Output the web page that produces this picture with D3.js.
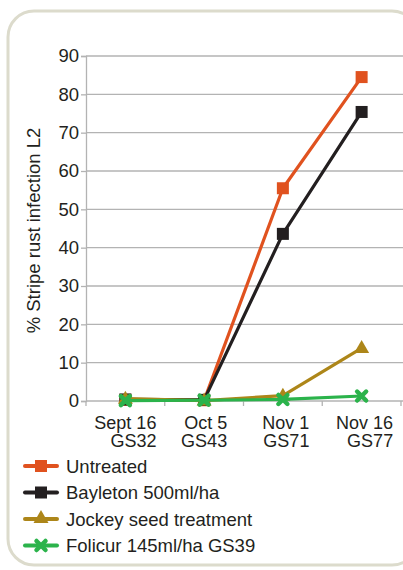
<!DOCTYPE html>
<html>
<head>
<meta charset="utf-8">
<script src="https://cdn.jsdelivr.net/npm/d3@7"></script>
<style>
  html, body { margin: 0; padding: 0; background: #fff; }
  svg { display: block; font-family: "Liberation Sans", Arial, Helvetica, sans-serif; }
</style>
</head>
<body>
<svg id="chart" width="403" height="570"></svg>
<script>
// ---- data ----
const dates = ["Sept 16", "Oct 5", "Nov 1", "Nov 16"];
const stages = ["GS32", "GS43", "GS71", "GS77"];
const yTicks = [0, 10, 20, 30, 40, 50, 60, 70, 80, 90];
const seriesNames = ["Untreated", "Bayleton 500ml/ha", "Jockey seed treatment", "Folicur 145ml/ha GS39"];
const untreated = [0.3, 0.2, 55.5, 84.5];
const bayleton = [0.4, 0.3, 43.6, 75.4];
const jockey = [0.6, 0.1, 1.4, 13.8];
const folicur = [0.1, 0.2, 0.4, 1.3];
const seriesColors = ["#e0521f", "#231f20", "#ad8619", "#2bb34b"];
const seriesMarkers = ["square", "square", "triangle", "cross"];

const series = seriesNames.map((n, i) => ({
  name: n,
  values: [untreated, bayleton, jockey, folicur][i],
  color: seriesColors[i],
  marker: seriesMarkers[i]
}));

const svg = d3.select("#chart");

// panel border
svg.append("rect")
  .attr("x", 8).attr("y", 11)
  .attr("width", 410).attr("height", 554)
  .attr("rx", 26).attr("ry", 26)
  .attr("fill", "#fff")
  .attr("stroke", "#dcdbcc")
  .attr("stroke-width", 3);

const pLeft = 86, pRight = 401, pTop = 56, pBottom = 401;
const x = d3.scaleBand().domain(dates).range([pLeft, pRight]);
const y = d3.scaleLinear().domain([0, 90]).range([pBottom, pTop]);

const gridColor = "#b3b3b3";

// gridlines
svg.append("g").selectAll("line").data(yTicks).join("line")
  .attr("x1", pLeft).attr("x2", 403)
  .attr("y1", d => y(d)).attr("y2", d => y(d))
  .attr("stroke", gridColor).attr("stroke-width", 1.3);

// y axis
const yAxis = svg.append("g")
  .attr("transform", `translate(${pLeft},0)`)
  .call(d3.axisLeft(y).tickValues(yTicks).tickSize(5).tickPadding(2));
yAxis.select(".domain").attr("stroke", gridColor).attr("stroke-width", 1.3);
yAxis.selectAll(".tick line").attr("stroke", gridColor).attr("stroke-width", 1.3);
yAxis.selectAll(".tick text")
  .attr("font-size", 18.5).attr("fill", "#231f20")
  .attr("font-family", "Liberation Sans, Arial, sans-serif");

// x axis tick marks at band boundaries
const bounds = dates.map(d => x(d)).concat([x(dates[dates.length - 1]) + x.bandwidth()]);
svg.append("g").selectAll("line").data(bounds).join("line")
  .attr("x1", d => d).attr("x2", d => d)
  .attr("y1", pBottom).attr("y2", pBottom + 5)
  .attr("stroke", gridColor).attr("stroke-width", 1.3);

// x labels (two lines, right aligned)
const xl = svg.append("g").attr("font-size", 18).attr("fill", "#231f20");
dates.forEach((d, i) => {
  const cx = x(d) + x.bandwidth() / 2;
  const t = xl.append("text").attr("y", 429).attr("text-anchor", "end");
  const t1 = t.append("tspan").text(d);
  const t2 = t.append("tspan").text(stages[i]).attr("dy", 18);
  const w = Math.max(t1.node().getComputedTextLength(), t2.node().getComputedTextLength());
  const shift = i >= 2 ? 3 : 0;
  t1.attr("x", cx + w / 2 + shift);
  t2.attr("x", cx + w / 2 + shift);
});

// y axis title
svg.append("text")
  .attr("transform", `translate(40,${(pTop + pBottom) / 2 + 2}) rotate(-90)`)
  .attr("text-anchor", "middle")
  .attr("font-size", 18.5).attr("fill", "#231f20")
  .text("% Stripe rust infection L2");

// marker drawing
function drawMarker(g, type, color, cx, cy) {
  if (type === "square") {
    g.append("rect").attr("x", cx - 6).attr("y", cy - 6)
      .attr("width", 12).attr("height", 12).attr("fill", color);
  } else if (type === "triangle") {
    g.append("path")
      .attr("d", `M${cx},${cy - 8}L${cx + 7.5},${cy + 5}L${cx - 7.5},${cy + 5}Z`)
      .attr("fill", color);
  } else {
    const s = 4.5;
    g.append("path")
      .attr("d", `M${cx - s},${cy - s}L${cx + s},${cy + s}M${cx + s},${cy - s}L${cx - s},${cy + s}`)
      .attr("stroke", color).attr("stroke-width", 4.5).attr("stroke-linecap", "round")
      .attr("fill", "none");
  }
}

const line = d3.line()
  .x((d, i) => x(dates[i]) + x.bandwidth() / 2)
  .y(d => y(d));

series.forEach(s => {
  const g = svg.append("g");
  g.append("path").datum(s.values)
    .attr("d", line)
    .attr("fill", "none")
    .attr("stroke", s.color)
    .attr("stroke-width", 3.2)
    .attr("stroke-linejoin", "round");
  s.values.forEach((v, i) => {
    drawMarker(g, s.marker, s.color, x(dates[i]) + x.bandwidth() / 2, y(v));
  });
});

// legend
const leg = svg.append("g");
series.forEach((s, i) => {
  const ly = 466 + i * 26.5;
  const g = leg.append("g");
  g.append("line").attr("x1", 25).attr("x2", 57).attr("y1", ly).attr("y2", ly)
    .attr("stroke", s.color).attr("stroke-width", 4).attr("stroke-linecap", "round");
  drawMarker(g, s.marker, s.color, 41, s.marker === "triangle" ? ly - 1 : ly);
  g.append("text").attr("x", 66).attr("y", ly + 6.5)
    .attr("font-size", 18.5).attr("fill", "#231f20").text(s.name);
});
</script>
</body>
</html>
